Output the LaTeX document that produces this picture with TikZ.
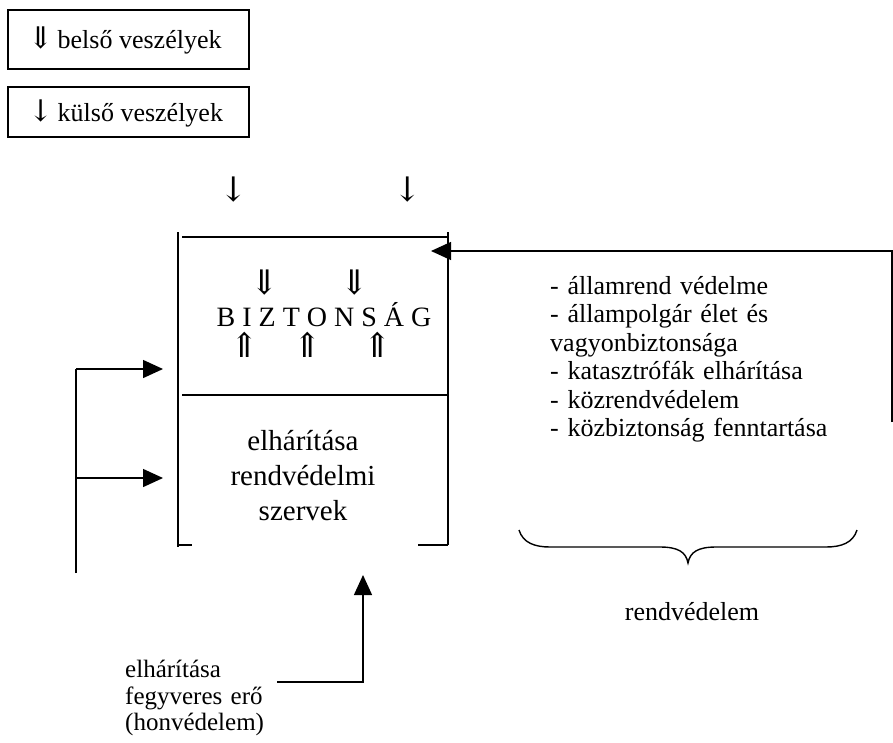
\documentclass[tikz,border=0pt]{standalone}
\usepackage{fontspec}
\setmainfont{Liberation Serif}
\newfontfamily\arrfont{DejaVu Serif}
\usetikzlibrary{arrows.meta}
\begin{document}
\begin{tikzpicture}[x=1pt,y=-1pt,
  txt/.style={inner sep=0pt, font=\fontsize{26}{28.5}\selectfont},
  bigtxt/.style={inner sep=0pt, align=center, font=\fontsize{29}{35}\selectfont},
  arrsym/.style={inner sep=0pt, font=\fontsize{34}{36}\arrfont},
  framebox/.style={draw, line width=1.4pt, minimum width=241pt},
  ln/.style={line width=1.4pt},
  arr/.style={line width=1.4pt, -{Triangle[length=20pt,width=18pt]}}
]
\useasboundingbox (0,0) rectangle (893,742);
\fill[white] (0,0) rectangle (893,742);

% top boxes
\node[framebox, minimum height=59pt] (b1) at (128.5,39.5) {};
\node[txt, anchor=west] (b1t) at (28,40) {{\fontsize{30}{30}\arrfont ⇓}\,belső veszélyek};
\node[framebox, minimum height=50pt] (b2) at (128.5,112) {};
\node[txt, anchor=west] (b2t) at (28,113) {{\fontsize{30}{30}\arrfont ↓}\,külső veszélyek};

% arrows above main box
\node[arrsym] (d1) at (234,190) {↓};
\node[arrsym] (d2) at (408,190) {↓};

% main box
\coordinate (TL) at (178,232);
\coordinate (BL) at (178,547);
\coordinate (TR) at (448,232);
\coordinate (BR) at (448,545);
\draw[ln] (TL) -- (BL);
\draw[ln] (TR) -- (BR);
\draw[ln] (182,237) -- (448,237);
\draw[ln] (182,395) -- (449,395);
\draw[ln] (178,545) -- (192,545);
\draw[ln] (418,545) -- (BR);

% BIZTONSAG
\node[arrsym] (u1) at (265,283) {⇓};
\node[arrsym] (u2) at (355,283) {⇓};
\node[inner sep=0pt, font=\fontsize{28}{30}\selectfont] (biz) at (324,315) {B I Z T O N S Á G};
\node[arrsym] (p1) at (245,345) {⇑};
\node[arrsym] (p2) at (308,345) {⇑};
\node[arrsym] (p3) at (378,345) {⇑};

% lower part
\node[bigtxt] (rv) at (303,476) {elhárítása\\rendvédelmi\\szervek};

% right list
\node[txt, anchor=north west, text width=330pt, align=left] (list) at (550,276) {- államrend védelme\\- állampolgár élet és\\vagyonbiztonsága\\- katasztrófák elhárítása\\- közrendvédelem\\- közbiztonság fenntartása};

% left bracket arrows
\coordinate (L1) at (76,369);
\coordinate (L2) at (76,573);
\coordinate (A1) at (163,369);
\coordinate (A2) at (163,478);
\coordinate (L3) at (76,478);
\draw[ln] (L2) -- (L1);
\draw[arr] (L1) -- (A1);
\draw[arr] (L3) -- (A2);

% right connector
\coordinate (R1) at (892,422);
\coordinate (R2) at (892,251);
\coordinate (R3) at (431,251);
\draw[arr] (R1) -- (R2) -- (R3);

% bottom connector
\coordinate (F1) at (277,682);
\coordinate (F2) at (363,682);
\coordinate (F3) at (363,575);
\draw[arr] (F1) -- (F2) -- (F3);
\node[txt, anchor=north west, text width=200pt, align=left, font=\fontsize{25}{26.5}\selectfont] (fegy) at (125,660) {elhárítása\\fegyveres erő\\(honvédelem)};

% brace
\draw[line width=1.4pt] (519,530) .. controls (523,543) and (535,547) .. (550,547)
  -- (660,547) .. controls (678,547) and (686,552) .. (688,563)
  .. controls (690,552) and (698,547) .. (716,547)
  -- (826,547) .. controls (841,547) and (853,543) .. (857,530);
\node[txt] (rvl) at (692,612) {rendvédelem};
\end{tikzpicture}
\end{document}
